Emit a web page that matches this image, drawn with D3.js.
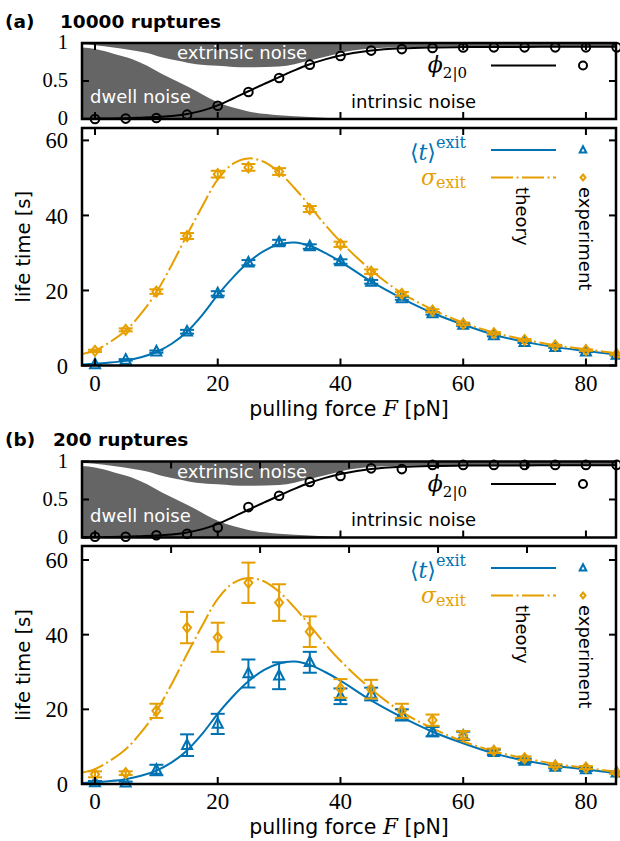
<!DOCTYPE html>
<html><head><meta charset="utf-8">
<script src="https://cdn.jsdelivr.net/npm/d3@7"></script>
<style>body{margin:0;background:#fff;} svg{display:block;}</style>
</head><body>
<script>
// ---------- data ----------
const forces = [0,5,10,15,20,25,30,35,40,45,50,55,60,65,70,75,80,85];
const xTicks = [0,20,40,60,80];
const xTicksTopB = [12.4,26.9,41.4,55.9,70.4];
const phiTicks = [0,0.5,1];
const phiTickLabels = ["0","0.5","1"];
const lifeTicks = [0,20,40,60];

// panel (a): 10000 ruptures
const phiA = [0.0,0.005,0.013,0.057,0.175,0.355,0.54,0.715,0.83,0.90,0.92,0.935,0.94,0.943,0.943,0.943,0.943,0.943];
const meanA = [0.3,1.5,3.7,9.0,19.2,27.4,32.8,31.7,27.7,22.3,17.9,13.9,10.8,8.0,6.2,4.9,3.7,2.8];
const meanAErr = [0.1,0.2,0.3,0.5,0.6,0.7,0.7,0.6,0.6,0.5,0.4,0.35,0.3,0.25,0.2,0.2,0.15,0.15];
const sigmaA = [3.9,9.5,19.7,34.5,51.0,52.8,51.7,41.7,32.3,25.0,19.1,14.6,11.1,8.6,6.8,5.3,4.1,3.0];
const sigmaAErr = [0.3,0.4,0.6,0.8,0.9,0.9,0.9,0.8,0.7,0.6,0.5,0.4,0.35,0.3,0.25,0.2,0.2,0.15];

// panel (b): 200 ruptures
const phiB = [0.01,0.01,0.03,0.05,0.13,0.40,0.55,0.73,0.81,0.91,0.90,0.955,0.955,0.955,0.955,0.955,0.955,0.955];
const meanB = [0.4,0.35,3.75,10.4,16.1,29.6,29.0,32.6,23.5,24.1,18.5,14.0,12.9,8.5,6.2,4.6,3.9,3.0];
const meanBErr = [0.4,0.3,1.4,2.9,2.7,3.75,3.6,2.8,2.1,1.7,1.5,1.25,1.1,0.7,0.6,0.4,0.4,0.3];
const sigmaB = [2.6,2.9,19.6,41.9,39.3,53.9,48.6,40.8,25.6,25.4,19.6,17.1,13.1,8.9,6.9,4.9,4.4,3.0];
const sigmaBErr = [0.8,0.5,1.9,4.2,3.9,5.4,4.9,4.1,2.5,2.5,1.9,1.5,1.1,0.6,0.5,0.4,0.4,0.3];

// theory (same in both panels)
const theoryF = [-2,0,2.5,5,7.5,10,12.5,15,17.5,20,22.5,25,27.5,30,32.5,35,37.5,40,45,50,55,60,65,70,75,80,85];
const meanTheory = [0.3,0.5,0.8,1.3,2.2,3.6,5.8,9.0,13.5,18.8,23.5,27.5,30.5,32.3,32.8,31.9,30.0,27.7,22.4,17.9,14.0,10.9,8.2,6.3,4.9,3.9,2.9];
const sigmaTheory = [3.1,4.0,6.3,9.3,13.8,19.5,26.8,34.8,42.5,49.6,53.8,55.2,54.3,51.5,47.3,42.5,37.5,33.0,25.4,19.3,14.9,11.4,8.8,6.9,5.4,4.3,3.3];
const phiTheory = [0.003,0.005,0.008,0.011,0.017,0.025,0.04,0.065,0.11,0.18,0.27,0.365,0.46,0.55,0.64,0.72,0.785,0.835,0.9,0.93,0.942,0.946,0.948,0.949,0.95,0.95,0.95];

// noise decomposition boundaries
const noiseF = [-2.2,0,3,6,8.5,11,14,16.5,20,22.5,25,30,35,38,40,44,50,55,60,70,85];
const dwellBound = [0.94,0.92,0.86,0.79,0.70,0.59,0.47,0.37,0.22,0.15,0.10,0.05,0.025,0.013,0.008,0.003,0,0,0,0,0];
const extrinsicBound = [0.98,0.97,0.94,0.905,0.87,0.81,0.76,0.72,0.70,0.685,0.68,0.69,0.77,0.83,0.87,0.92,0.945,0.95,0.953,0.954,0.954];

// ---------- drawing ----------
const BLUE = "#0072B2", ORANGE = "#E69F00", GRAY = "#656565";
const SERIF = "'Liberation Serif','DejaVu Serif',serif";
const MATH = "'DejaVu Serif','Liberation Serif',serif";
const SANS = "'DejaVu Sans',sans-serif";

const svg = d3.select("body").append("svg").attr("width",620).attr("height",841);
const x = d3.scaleLinear().domain([-2.12,84.9]).range([82,616]);
const L = 82, R = 616, TICK = 7;

const triPath = s => `M0,${-s*0.58}L${s*0.5},${s*0.38}L${-s*0.5},${s*0.38}Z`;
const diaPath = (w,h) => `M0,${-h/2}L${w/2},0L0,${h/2}L${-w/2},0Z`;

function frameTicks(g, y, ticksBottom, ticksTop, yTicks, yTop, yBot, rightTicks){
  ticksBottom.forEach(t=>g.append("line").attr("x1",x(t)).attr("x2",x(t)).attr("y1",yBot).attr("y2",yBot-TICK));
  ticksTop.forEach(t=>g.append("line").attr("x1",x(t)).attr("x2",x(t)).attr("y1",yTop).attr("y2",yTop+TICK));
  yTicks.forEach(t=>g.append("line").attr("x1",L).attr("x2",L+TICK).attr("y1",y(t)).attr("y2",y(t)));
  rightTicks.forEach(t=>g.append("line").attr("x1",R).attr("x2",R-TICK).attr("y1",y(t)).attr("y2",y(t)));
  g.selectAll("line").attr("stroke","#000").attr("stroke-width",2);
  g.append("rect").attr("x",L).attr("y",yTop).attr("width",R-L).attr("height",yBot-yTop)
    .attr("fill","none").attr("stroke","#000").attr("stroke-width",2.5);
}

function panel(cfg){
  const g = svg.append("g");
  // title
  g.append("text").attr("x",5).attr("y",cfg.titleY).attr("font-family",SANS).attr("font-weight","bold")
    .attr("font-size",18.5).text(cfg.label);
  g.append("text").attr("x",cfg.titleX).attr("y",cfg.titleY).attr("font-family",SANS).attr("font-weight","bold")
    .attr("font-size",18.5).text(cfg.title);

  // ---- top plot ----
  const t0 = cfg.top0, t1 = cfg.top1;
  const yT = d3.scaleLinear().domain([0,1]).range([t1,t0]);
  const clipId = "clip"+cfg.id;
  g.append("clipPath").attr("id",clipId).append("rect").attr("x",L).attr("y",t0).attr("width",R-L).attr("height",t1-t0);
  const tg = g.append("g").attr("clip-path",`url(#${clipId})`);
  const nd = noiseF.map((f,i)=>({f, d:dwellBound[i], e:extrinsicBound[i]}));
  tg.append("path").datum(nd).attr("fill",GRAY)
    .attr("d", d3.area().x(d=>x(d.f)).y0(yT(0)).y1(d=>yT(d.d)).curve(d3.curveMonotoneX));
  tg.append("path").datum(nd).attr("fill",GRAY)
    .attr("d", d3.area().x(d=>x(d.f)).y0(yT(1.05)).y1(d=>yT(d.e)).curve(d3.curveMonotoneX));
  g.append("text").attr("x",177).attr("y",t0+16).attr("fill","#fff").attr("font-family",SANS).attr("font-size",18).text("extrinsic noise");
  g.append("text").attr("x",90).attr("y",t0+60).attr("fill","#fff").attr("font-family",SANS).attr("font-size",18).text("dwell noise");
  g.append("text").attr("x",351).attr("y",t0+64.5).attr("fill","#000").attr("font-family",SANS).attr("font-size",18).text("intrinsic noise");
  // phi theory
  const pt = theoryF.map((f,i)=>[f,phiTheory[i]]);
  g.append("path").datum(pt).attr("fill","none").attr("stroke","#000").attr("stroke-width",2)
    .attr("d", d3.line().x(d=>x(d[0])).y(d=>yT(d[1])).curve(d3.curveCatmullRom.alpha(0.5)));
  g.selectAll(null).data(forces.map((f,i)=>[f,cfg.phi[i]])).join("circle")
    .attr("cx",d=>x(d[0])).attr("cy",d=>yT(d[1])).attr("r",4.3)
    .attr("fill","none").attr("stroke","#000").attr("stroke-width",2);
  // legend
  const ly = t0+22.5;
  const phiT = g.append("text").attr("x",467).attr("y",t0+29).attr("text-anchor","end").attr("font-family",MATH);
  phiT.append("tspan").attr("font-style","italic").attr("font-size",22).text("\u03D5");
  phiT.append("tspan").attr("font-size",15).attr("dy",6).text("2|0");
  g.append("line").attr("x1",491).attr("x2",556).attr("y1",ly).attr("y2",ly).attr("stroke","#000").attr("stroke-width",2);
  g.append("circle").attr("cx",583).attr("cy",ly).attr("r",4).attr("fill","none").attr("stroke","#000").attr("stroke-width",2);
  frameTicks(g.append("g"), yT, xTicks, cfg.oddTop ? xTicksTopB : xTicks, phiTicks, t0, t1, [0.5]);
  phiTicks.forEach((t,i)=>g.append("text").attr("x",68).attr("y",yT(t)).attr("dy","0.3em")
    .attr("text-anchor","end").attr("font-family",SERIF).attr("font-size",20.5).text(phiTickLabels[i]));

  // ---- lower plot ----
  const l0 = cfg.low0, l1 = cfg.low1;
  const yL = d3.scaleLinear().domain([0,cfg.lowMax]).range([l1,l0]);
  const line = d3.line().x(d=>x(d[0])).y(d=>yL(d[1])).curve(d3.curveCatmullRom.alpha(0.5));
  g.append("path").datum(theoryF.map((f,i)=>[f,meanTheory[i]])).attr("fill","none")
    .attr("stroke",BLUE).attr("stroke-width",2).attr("d",line);
  g.append("path").datum(theoryF.map((f,i)=>[f,sigmaTheory[i]])).attr("fill","none")
    .attr("stroke",ORANGE).attr("stroke-width",2).attr("stroke-dasharray","22,3.5,2,3.5").attr("d",line);

  function series(vals, errs, color, marker){
    const d = forces.map((f,i)=>({f, v:vals[i], e:errs[i]}));
    const sg = g.append("g").attr("stroke",color).attr("stroke-width",2).attr("fill","none");
    d.forEach(p=>{
      const cx = x(p.f), ya = yL(p.v+p.e), yb = yL(p.v-p.e);
      sg.append("line").attr("x1",cx).attr("x2",cx).attr("y1",ya).attr("y2",yb);
      sg.append("line").attr("x1",cx-7).attr("x2",cx+7).attr("y1",ya).attr("y2",ya);
      sg.append("line").attr("x1",cx-7).attr("x2",cx+7).attr("y1",yb).attr("y2",yb);
      sg.append("path").attr("transform",`translate(${cx},${yL(p.v)})`).attr("d",marker);
    });
  }
  series(cfg.mean, cfg.meanErr, BLUE, triPath(10));
  series(cfg.sigma, cfg.sigmaErr, ORANGE, diaPath(8,10));

  // legend
  const by = l0+22, oy = l0+49.5;
  const tt = g.append("text").attr("x",466).attr("y",l0+32).attr("text-anchor","end").attr("fill",BLUE).attr("font-family",MATH);
  tt.append("tspan").attr("font-size",22).text("\u27E8");
  tt.append("tspan").attr("font-size",22).attr("font-style","italic").text("t");
  tt.append("tspan").attr("font-size",22).text("\u27E9");
  tt.append("tspan").attr("font-size",16).attr("dy",-12).text("exit");
  const st = g.append("text").attr("x",466).attr("y",l0+57).attr("text-anchor","end").attr("fill",ORANGE).attr("font-family",MATH);
  st.append("tspan").attr("font-size",22).attr("font-style","italic").text("\u03C3");
  st.append("tspan").attr("font-size",16).attr("dy",3).text("exit");
  g.append("line").attr("x1",491).attr("x2",556).attr("y1",by).attr("y2",by).attr("stroke",BLUE).attr("stroke-width",2);
  g.append("line").attr("x1",491).attr("x2",556).attr("y1",oy).attr("y2",oy).attr("stroke",ORANGE).attr("stroke-width",2).attr("stroke-dasharray","22,3.5,2,3.5");
  g.append("path").attr("transform",`translate(583,${by})`).attr("d",triPath(6.5)).attr("fill","none").attr("stroke",BLUE).attr("stroke-width",2);
  g.append("path").attr("transform",`translate(583,${oy})`).attr("d",diaPath(5,6)).attr("fill","none").attr("stroke",ORANGE).attr("stroke-width",2);
  g.append("text").attr("transform",`translate(516,${l0+59}) rotate(90)`).attr("font-family",SANS).attr("font-size",18).text("theory");
  g.append("text").attr("transform",`translate(579,${l0+59}) rotate(90)`).attr("font-family",SANS).attr("font-size",18).text("experiment");

  frameTicks(g.append("g"), yL, xTicks, cfg.oddTop ? xTicksTopB : xTicks, lifeTicks, l0, l1, lifeTicks);
  lifeTicks.forEach(t=>g.append("text").attr("x",68).attr("y",yL(t)).attr("dy","0.36em")
    .attr("text-anchor","end").attr("font-family",SERIF).attr("font-size",22.5).text(t));
  xTicks.forEach(t=>g.append("text").attr("x",x(t)).attr("y",l1+25).attr("text-anchor","middle")
    .attr("font-family",SERIF).attr("font-size",23).text(t));
  const xl = g.append("text").attr("x",349).attr("y",l1+50).attr("text-anchor","middle").attr("font-family",SANS).attr("font-size",20.5);
  xl.append("tspan").text("pulling force ");
  xl.append("tspan").attr("font-family",MATH).attr("font-style","italic").attr("font-size",21.5).text("F");
  xl.append("tspan").text(" [pN]");
  g.append("text").attr("transform",`translate(30,${(l0+l1)/2}) rotate(-90)`).attr("text-anchor","middle")
    .attr("font-family",SANS).attr("font-size",19.5).text("life time [s]");
}

panel({id:"a", label:"(a)", title:"10000 ruptures", titleX:60, titleY:27.5,
  top0:43, top1:119, low0:128, low1:365.5, lowMax:63.3, oddTop:false,
  phi:phiA, mean:meanA, meanErr:meanAErr, sigma:sigmaA, sigmaErr:sigmaAErr});
panel({id:"b", label:"(b)", title:"200 ruptures", titleX:53, titleY:446,
  top0:461.5, top1:537.5, low0:546, low1:784, lowMax:63.75, oddTop:true,
  phi:phiB, mean:meanB, meanErr:meanBErr, sigma:sigmaB, sigmaErr:sigmaBErr});
</script>
</body></html>
